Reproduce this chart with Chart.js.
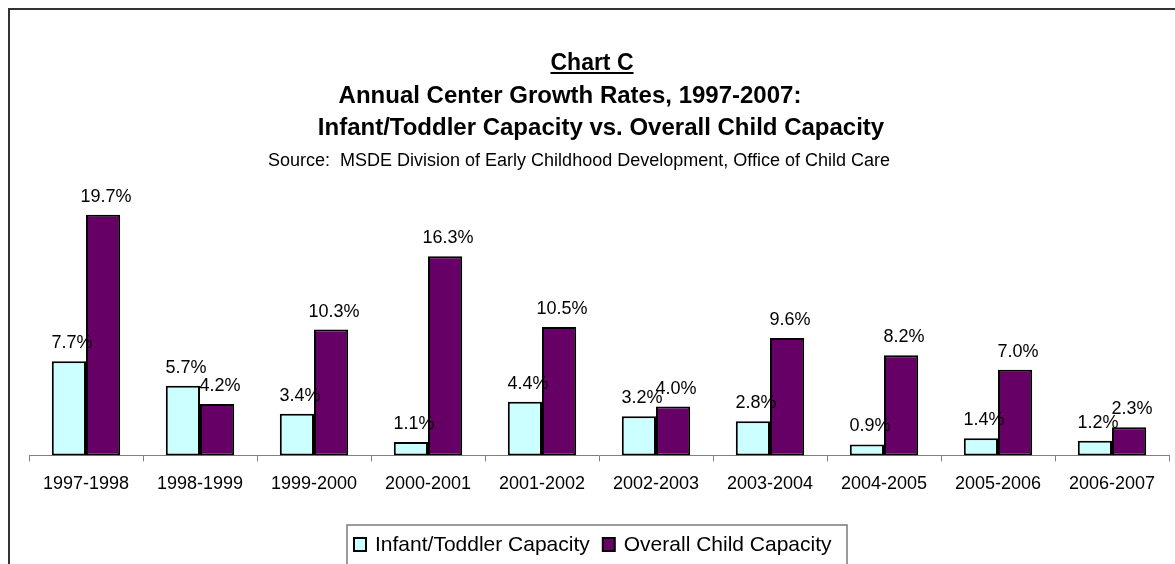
<!DOCTYPE html>
<html>
<head>
<meta charset="utf-8">
<script src="https://cdn.jsdelivr.net/npm/chart.js@4.4.1/dist/chart.umd.min.js"></script>
<style>
  html, body { margin: 0; padding: 0; background: #ffffff; }
  #wrap { width: 1175px; height: 564px; position: relative; }
  canvas { display: block; }
</style>
</head>
<body>
<div id="wrap"><canvas id="growthChart" width="1175" height="564"></canvas></div>
<script>
// Chart data
const years = ["1997-1998", "1998-1999", "1999-2000", "2000-2001", "2001-2002",
               "2002-2003", "2003-2004", "2004-2005", "2005-2006", "2006-2007"];
const infantToddler = [7.7, 5.7, 3.4, 1.1, 4.4, 3.2, 2.8, 0.9, 1.4, 1.2];
const overallChild = [19.7, 4.2, 10.3, 16.3, 10.5, 4.0, 9.6, 8.2, 7.0, 2.3];
const seriesNames = ["Infant/Toddler Capacity", "Overall Child Capacity"];

const titleMain = "Chart C";
const titleLines = ["Annual Center Growth Rates, 1997-2007:",
                    "Infant/Toddler Capacity vs. Overall Child Capacity"];
const sourceLine = "Source:  MSDE Division of Early Childhood Development, Office of Child Care";

const FONT = "'Liberation Sans', Arial, Helvetica, sans-serif";

// Frame, titles, value labels and boxed legend
const decorPlugin = {
  id: "decor",
  beforeDraw(chart) {
    const ctx = chart.ctx;
    ctx.save();
    ctx.fillStyle = "#ffffff";
    ctx.fillRect(0, 0, chart.width, chart.height);
    ctx.strokeStyle = "#333333";
    ctx.lineWidth = 2;
    ctx.strokeRect(9, 9, chart.width + 20, chart.height + 40);

    ctx.fillStyle = "#000000";
    ctx.textBaseline = "alphabetic";
    ctx.textAlign = "center";
    ctx.font = "bold 23px " + FONT;
    ctx.fillText(titleMain, 592, 70);
    const w = ctx.measureText(titleMain).width;
    ctx.fillRect(592 - w / 2, 72, w, 2);

    ctx.font = "bold 24px " + FONT;
    ctx.fillText(titleLines[0], 570, 103);
    ctx.fillText(titleLines[1], 601, 135);

    ctx.font = "18px " + FONT;
    ctx.fillText(sourceLine, 579, 166);
    ctx.restore();
  },
  afterDatasetsDraw(chart) {
    const ctx = chart.ctx;
    ctx.save();
    ctx.font = "18px " + FONT;
    ctx.fillStyle = "#000000";
    ctx.textAlign = "center";
    ctx.textBaseline = "alphabetic";
    chart.data.datasets.forEach((ds, i) => {
      chart.getDatasetMeta(i).data.forEach((bar, j) => {
        ctx.fillText(ds.data[j].toFixed(1) + "%", bar.x + 3, bar.y - 13);
      });
    });
    ctx.restore();
  },
  afterDraw(chart) {
    const ctx = chart.ctx;
    ctx.save();
    ctx.strokeStyle = "#7a7a7a";
    ctx.lineWidth = 1.5;
    ctx.strokeRect(347, 525, 500, 80);

    ctx.font = "21px " + FONT;
    ctx.textBaseline = "alphabetic";
    ctx.textAlign = "left";
    let x = 354;
    chart.data.datasets.forEach(ds => {
      ctx.fillStyle = ds.backgroundColor;
      ctx.fillRect(x, 538, 12, 13);
      ctx.strokeStyle = "#000000";
      ctx.lineWidth = 2;
      ctx.strokeRect(x, 538, 12, 13);
      ctx.fillStyle = "#000000";
      ctx.fillText(ds.label, x + 21, 551);
      x += 21 + ctx.measureText(ds.label).width + 13;
    });
    ctx.restore();
  }
};

new Chart(document.getElementById("growthChart"), {
  type: "bar",
  data: {
    labels: years,
    datasets: [
      {
        label: seriesNames[0],
        data: infantToddler,
        backgroundColor: "#ccffff",
        borderColor: "#000000",
        borderWidth: 2,
        borderSkipped: false
      },
      {
        label: seriesNames[1],
        data: overallChild,
        backgroundColor: "#660066",
        borderColor: "#000000",
        borderWidth: 2,
        borderSkipped: false
      }
    ]
  },
  options: {
    responsive: false,
    maintainAspectRatio: false,
    animation: false,
    devicePixelRatio: 1,
    layout: {
      padding: { left: 29, right: 6, top: 211, bottom: 57 }
    },
    plugins: {
      legend: { display: false },
      title: { display: false },
      tooltip: { enabled: false }
    },
    datasets: {
      bar: { categoryPercentage: 0.6, barPercentage: 1.0 }
    },
    scales: {
      x: {
        grid: {
          display: true,
          drawOnChartArea: false,
          drawTicks: true,
          tickLength: 6,
          color: "#808080",
          offset: true
        },
        border: { display: true, color: "#808080", width: 1 },
        ticks: {
          color: "#000000",
          font: { family: FONT, size: 18 },
          padding: 12,
          maxRotation: 0,
          autoSkip: false
        }
      },
      y: {
        display: false,
        min: 0,
        max: 20
      }
    }
  },
  plugins: [decorPlugin]
});
</script>
</body>
</html>
